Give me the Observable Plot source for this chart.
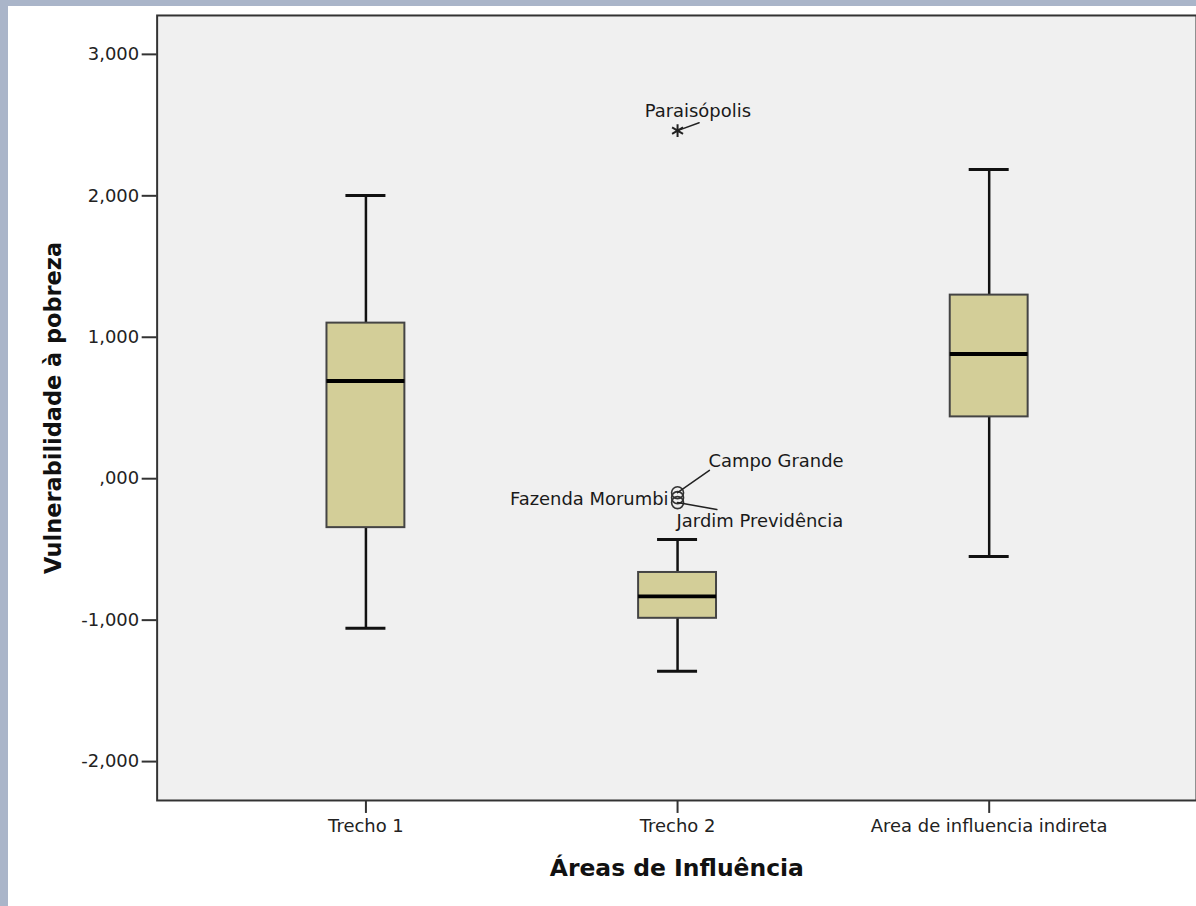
<!DOCTYPE html>
<html>
<head>
<meta charset="utf-8">
<script src="https://cdn.jsdelivr.net/npm/d3@7"></script>
<script src="https://cdn.jsdelivr.net/npm/@observablehq/plot@0.6"></script>
<style>
  html, body { margin: 0; padding: 0; width: 1196px; height: 906px; overflow: hidden; background: #aab5c9; }
  #panel { position: absolute; left: 8px; top: 6px; right: 0; bottom: 0; background: #ffffff; overflow: hidden; }
  #panel svg { display: block; }
</style>
</head>
<body>
<div id="panel"></div>
<script>
// ---- data ----
const categories = ["Trecho 1", "Trecho 2", "Area de influencia indireta"];
const whiskerLow  = [-1.058, -1.361, -0.550];
const quartile1   = [-0.346, -0.987,  0.437];
const medianVals  = [ 0.691, -0.832,  0.881];
const quartile3   = [ 1.100, -0.663,  1.298];
const whiskerHigh = [ 2.003, -0.430,  2.186];

const outlierCategory = ["Trecho 2", "Trecho 2", "Trecho 2", "Trecho 2"];
const outlierNames    = ["Paraisópolis", "Campo Grande", "Fazenda Morumbi", "Jardim Previdência"];
const outlierValues   = [2.461, -0.099, -0.134, -0.169];
const outlierKinds    = ["extreme", "mild", "mild", "mild"];

const yTicks      = [-2, -1, 0, 1, 2, 3];
const yTickLabels = ["-2,000", "-1,000", ",000", "1,000", "2,000", "3,000"];

const xTitle = "Áreas de Influência";
const yTitle = "Vulnerabilidade à pobreza";

// ---- label layout (styles) ----
const labelLayout = [
  {anchor: "start", dx: -33, dy: -19, len: 23, angle: 70},
  {anchor: "start", dx: 31, dy: -32, len: 39, angle: 55},
  {anchor: "start", dx: -168, dy: 2, len: 0, angle: 0},
  {anchor: "start", dx: -1, dy: 19, len: 40, angle: 100}
];

// ---- build tables ----
const table = categories.map((c, i) => ({
  cat: c, lo: whiskerLow[i], q1: quartile1[i], med: medianVals[i], q3: quartile3[i], hi: whiskerHigh[i]
}));
const outliers = outlierNames.map((n, i) => ({
  cat: outlierCategory[i], name: n, value: outlierValues[i], kind: outlierKinds[i]
}));

const lineShape = {
  draw(context, l) { context.moveTo(0, 0); context.lineTo(0, -l); }
};

const labelMarks = [];
outliers.forEach((o, i) => {
  const L = labelLayout[i];
  if (L.len > 0) {
    labelMarks.push(Plot.vector([o], {
      x: "cat", y: "value", length: L.len, rotate: L.angle, anchor: "start",
      shape: lineShape, stroke: "#222", strokeWidth: 1.5
    }));
  }
  labelMarks.push(Plot.text([o], {
    x: "cat", y: "value", text: "name", dx: L.dx, dy: L.dy,
    textAnchor: L.anchor, lineAnchor: "middle", fill: "#1a1a1a", fontSize: 18
  }));
});

const W = 1191, H = 900;
const mL = 149, mT = 9, mB = 104;

const chart = Plot.plot({
  width: W,
  height: H,
  marginLeft: mL,
  marginRight: 0,
  marginTop: mT,
  marginBottom: mB,
  style: {fontFamily: "DejaVu Sans", fontSize: "18px", color: "#222", background: "transparent", overflow: "visible"},
  x: {type: "band", domain: categories, range: [mL, 1192.5], paddingInner: 0.75, paddingOuter: 0.545, round: false, label: null},
  y: {domain: [-2.275, 3.275], label: null},
  marks: [
    Plot.frame({fill: "#f0f0f0"}),
    Plot.ruleX(table, {x: "cat", y1: "lo", y2: "hi", stroke: "#111", strokeWidth: 2.5}),
    Plot.tickY(table, {x: "cat", y: "lo", insetLeft: 19, insetRight: 19, stroke: "#111", strokeWidth: 3}),
    Plot.tickY(table, {x: "cat", y: "hi", insetLeft: 19, insetRight: 19, stroke: "#111", strokeWidth: 3}),
    Plot.barY(table, {x: "cat", y1: "q1", y2: "q3", fill: "#d3ce98", stroke: "#444", strokeWidth: 2}),
    Plot.tickY(table, {x: "cat", y: "med", stroke: "#000", strokeWidth: 4}),
    Plot.dot(outliers.filter(d => d.kind === "mild"), {x: "cat", y: "value", r: 6, stroke: "#333", strokeWidth: 1.6, fill: "none"}),
    Plot.dot(outliers.filter(d => d.kind === "extreme"), {x: "cat", y: "value", symbol: "asterisk", r: 6, stroke: "#222", strokeWidth: 2}),
    ...labelMarks,
    Plot.axisY({ticks: yTicks, tickFormat: d => yTickLabels[yTicks.indexOf(d)], tickSize: 15, tickPadding: 3, strokeWidth: 2, stroke: "#333", fontSize: 18, fill: "#222"}),
    Plot.axisX({tickSize: 13, tickPadding: 6, strokeWidth: 2, stroke: "#333", fontSize: 18, fill: "#222"}),
    Plot.frame({stroke: "#333", strokeWidth: 2}),
    Plot.text([xTitle], {text: d => d, frameAnchor: "bottom", dy: 68, textAnchor: "middle", lineAnchor: "middle", fontWeight: "bold", fontSize: 23.5, fill: "#111"}),
    Plot.text([yTitle], {text: d => d, frameAnchor: "left", dx: -104, rotate: -90, textAnchor: "middle", lineAnchor: "middle", fontWeight: "bold", fontSize: 22.5, fill: "#111"})
  ]
});
document.getElementById("panel").appendChild(chart);
</script>
</body>
</html>
